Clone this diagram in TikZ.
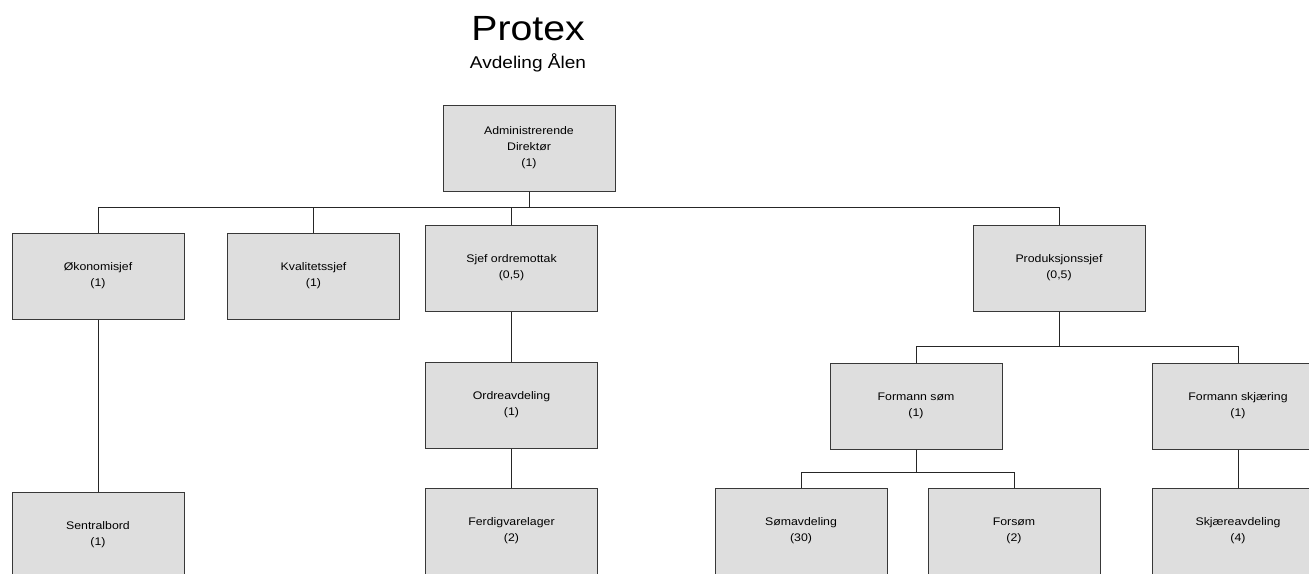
\documentclass[tikz,border=0pt]{standalone}
\usepackage{fontspec}
\setmainfont[FakeStretch=1.12]{Liberation Sans}
\usepackage{tikz}
\usetikzlibrary{calc, positioning}

\begin{document}
\begin{tikzpicture}[
    x=1pt, y=-1pt,
    font=\fontsize{11}{16}\selectfont
]

    % Global style for org boxes
    \tikzset{
        unit/.style={
            draw=black!78, line width=1pt, fill=black!13,
            minimum width=172pt, minimum height=86pt,
            inner sep=0pt, align=center
        },
        link/.style={draw=black!85, line width=0.8pt}
    }

    \useasboundingbox (0,0) rectangle (1309,573);
    \clip (0,0) rectangle (1309,573);

    % Title
    \node[font=\fontsize{35}{40}\selectfont, anchor=base] (title) at (528, 40) {Protex};
    \node[font=\fontsize{17}{20}\selectfont, anchor=base] (sub) at (528, 68) {Avdeling Ålen};

    % Level 1 (top)
    \node[unit] (dir) at (529, 148) {Administrerende\\Direktør\\(1)};

    % Level 2
    \node[unit] (oko)  at (98, 276)    {Økonomisjef\\(1)};
    \node[unit] (kval) at (313.5, 276) {Kvalitetssjef\\(1)};
    \node[unit] (sjef) at (511.5, 268) {Sjef ordremottak\\(0,5)};
    \node[unit] (prod) at (1059, 268)  {Produksjonssjef\\(0,5)};

    % Wiring dir -> level 2
    \draw[link] (dir.south) -- ++(0, 16) -| (oko.north);
    \draw[link] (dir.south) -- ++(0, 16) -| (kval.north);
    \draw[link] (dir.south) -- ++(0, 16) -| (sjef.north);
    \draw[link] (dir.south) -- ++(0, 16) -| (prod.north);

    % Level 3
    \node[unit] (sentral) at (98, 535)    {Sentralbord\\(1)};
    \node[unit] (ordre)   at (511.5, 405) {Ordreavdeling\\(1)};
    \node[unit] (ferdig)  at (511.5, 531) {Ferdigvarelager\\(2)};
    \node[unit] (f_som)   at (916, 406)   {Formann søm\\(1)};
    \node[unit] (f_skj)   at (1238, 406)  {Formann skjæring\\(1)};

    \draw[link] (oko.south) -- (sentral.north);
    \draw[link] (sjef.south) -- (ordre.north);
    \draw[link] (ordre.south) -- (ferdig.north);

    % Produksjonssjef -> formenn
    \draw[link] (prod.south) -- ++(0, 35) -| (f_som.north);
    \draw[link] (prod.south) -- ++(0, 35) -| (f_skj.north);

    % Level 4 (production)
    \node[unit] (som_avd) at (801, 531)  {Sømavdeling\\(30)};
    \node[unit] (forsom)  at (1014, 531) {Forsøm\\(2)};
    \node[unit] (skj_avd) at (1238, 531) {Skjæreavdeling\\(4)};

    \draw[link] (f_som.south) -- ++(0, 23) -| (som_avd.north);
    \draw[link] (f_som.south) -- ++(0, 23) -| (forsom.north);
    \draw[link] (f_skj.south) -- (skj_avd.north);

\end{tikzpicture}
\end{document}
